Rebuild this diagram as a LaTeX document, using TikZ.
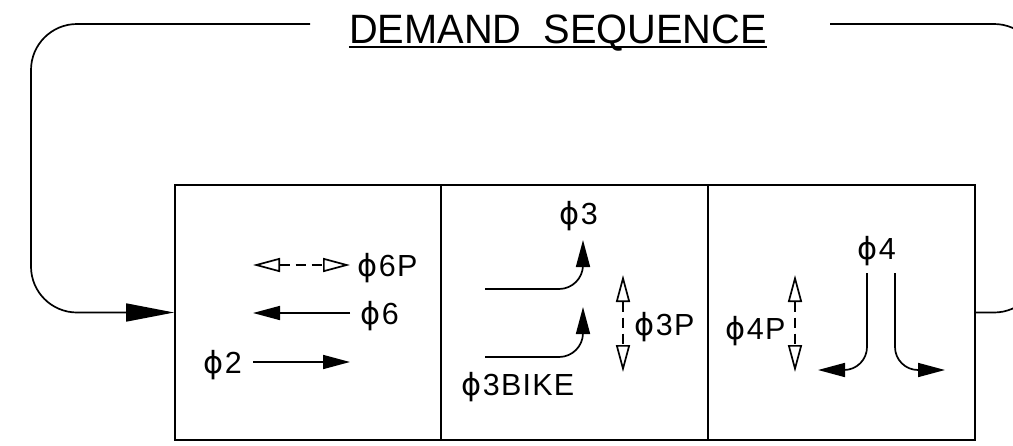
\documentclass[tikz,border=0pt]{standalone}
\usepackage{fontspec}
\setmainfont{Liberation Sans}
\newfontfamily\lblfont[LetterSpace=4]{Liberation Sans}
\newfontfamily\phf{DejaVu Sans}
\usetikzlibrary{arrows.meta}
\newcommand\ph{{\phf ϕ}\kern1.5pt}
\begin{document}
\begin{tikzpicture}[x=1pt,y=-1pt,
  panel/.style={draw, line width=1.7pt, minimum height=255pt, inner sep=0pt},
  loopline/.style={line width=1.7pt, rounded corners=46pt},
  lbl/.style={inner sep=0pt, anchor=base west, font=\lblfont\fontsize{30.5}{34}\selectfont},
  sym/.style={line width=1.7pt},
  fa/.style={-{Triangle[length=27pt,width=14pt]}},
  oa/.style={dash pattern=on 10pt off 6pt, {Triangle[open,length=27pt,width=14pt]}-{Triangle[open,length=27pt,width=14pt]}}
]
\useasboundingbox (0,0) rectangle (1013,445);
\clip (0,0) rectangle (1013,445);
% panels
\node[panel, minimum width=266pt] (p1) at (308,312.5) {};
\node[panel, minimum width=267pt] (p2) at (574.5,312.5) {};
\node[panel, minimum width=267pt] (p3) at (841.5,312.5) {};
% title
\node[inner sep=0pt, anchor=base, font=\fontsize{41}{46}\selectfont, xscale=0.97] (title) at (558,43) {DEMAND\ \ SEQUENCE};
\draw[line width=1.6pt] ([yshift=-4pt]title.base west) -- ([yshift=-4pt]title.base east);
% loop
\coordinate (lt) at (310,24);
\coordinate (rt) at (830,24);
\draw[loopline, -{Triangle[length=48pt,width=18pt]}] (lt) -- (31,24) -- (31,312.5) -- (p1.west);
\draw[loopline] (p3.east) -- (1040,312.5) -- (1040,24) -- (rt);
% labels
\node[lbl] (t6p) at (357,276) {\ph6P};
\node[lbl] (t6) at (360,324) {\ph6};
\node[lbl] (t2) at (203,373) {\ph2};
\node[lbl] (t3) at (559,224) {\ph3};
\node[lbl] (t3b) at (461,395) {\ph3BIKE};
\node[lbl] (t3p) at (634,335) {\ph3P};
\node[lbl] (t4p) at (725,339) {\ph4P};
\node[lbl] (t4) at (857,259) {\ph4};
% panel 1 arrows
\coordinate (a6pL) at (253,265); \coordinate (a6pR) at (350,265);
\coordinate (a6L) at (253,313); \coordinate (a6R) at (350,313);
\coordinate (a2L) at (253,362); \coordinate (a2R) at (350,362);
\draw[sym,oa] (a6pL) -- (a6pR);
\draw[sym,fa] (a6R) -- (a6L);
\draw[sym,fa] (a2L) -- (a2R);
% panel 2 arrows
\coordinate (a3s) at (485,289); \coordinate (a3e) at (583,240);
\coordinate (a3bs) at (485,357); \coordinate (a3be) at (583,307);
\draw[sym,fa,rounded corners=24pt] (a3s) -- (a3e |- a3s) -- (a3e);
\draw[sym,fa,rounded corners=24pt] (a3bs) -- (a3be |- a3bs) -- (a3be);
\coordinate (a3pT) at (623,275); \coordinate (a3pB) at (623,372);
\draw[sym,oa] (a3pT) -- (a3pB);
% panel 3 arrows
\coordinate (a4pT) at (795,275); \coordinate (a4pB) at (795,372);
\draw[sym,oa] (a4pT) -- (a4pB);
\coordinate (a4Ls) at (867,273); \coordinate (a4Le) at (818,370);
\coordinate (a4Rs) at (895,273); \coordinate (a4Re) at (945,370);
\draw[sym,fa,rounded corners=23pt] (a4Ls) -- (a4Ls |- a4Le) -- (a4Le);
\draw[sym,fa,rounded corners=23pt] (a4Rs) -- (a4Rs |- a4Re) -- (a4Re);
\end{tikzpicture}
\end{document}
